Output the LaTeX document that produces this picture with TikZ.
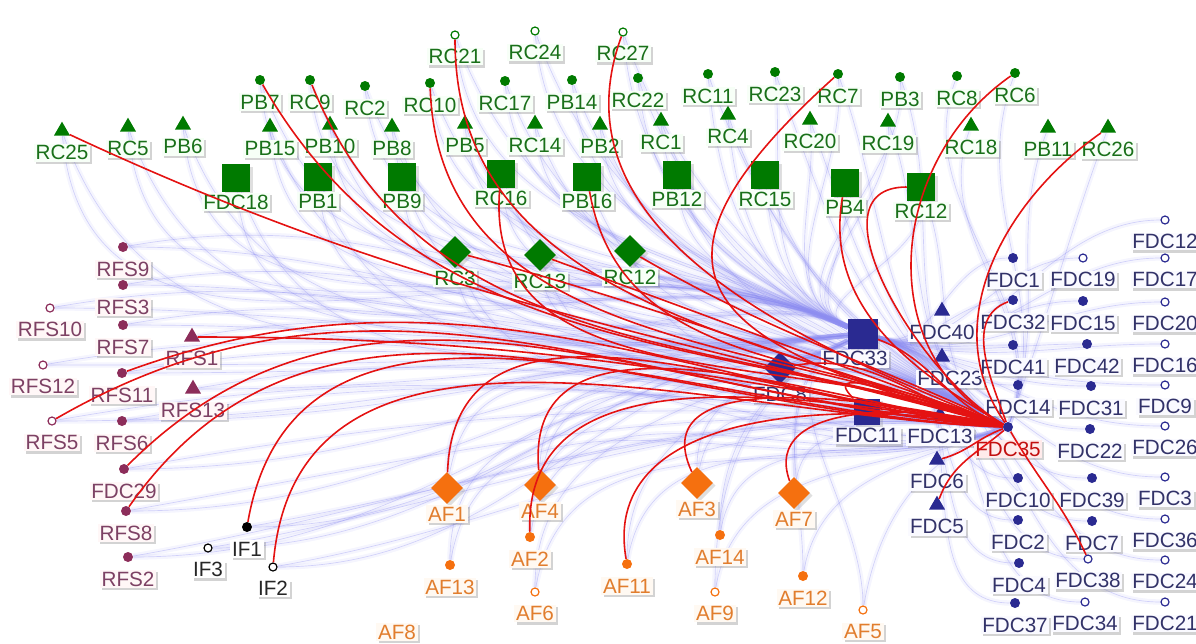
\documentclass[tikz,border=0pt]{standalone}
\usepackage{fontspec}
\setmainfont{Liberation Sans}
\usetikzlibrary{shapes.geometric,shadows,backgrounds}
\definecolor{leafgreen}{RGB}{0,122,0}
\definecolor{leaftext}{RGB}{25,112,25}
\definecolor{navyblue}{RGB}{42,42,145}
\definecolor{navytext}{RGB}{50,50,105}
\definecolor{plum}{RGB}{140,45,90}
\definecolor{plumtext}{RGB}{125,65,100}
\definecolor{amber}{RGB}{245,112,15}
\definecolor{ambertext}{RGB}{225,125,45}
\definecolor{linkred}{RGB}{228,18,18}
\definecolor{hazeblue}{RGB}{140,140,240}

\begin{document}
\begin{tikzpicture}[x=0.75pt, y=0.75pt]
    % Styles
    \tikzstyle{lab} = [fill=white, inner sep=1.2pt, label distance=5.8pt, font=\fontsize{15.5}{17}\selectfont, drop shadow={shadow xshift=1.6pt, shadow yshift=-1.6pt, opacity=0.35}]
    \tikzstyle{big} = [label distance=0.5pt]
    \tikzstyle{glab} = [lab, text=leaftext, fill=green!3]
    \tikzstyle{blab} = [lab, text=navytext, fill=blue!2]
    \tikzstyle{mlab} = [lab, text=plumtext, fill=red!3]
    \tikzstyle{olab} = [lab, text=ambertext, fill=orange!5]
    \tikzstyle{klab} = [lab, text=black!85]
    \tikzstyle{dotnode} = [circle, inner sep=0pt, minimum size=7.5pt]
    \tikzstyle{ringnode} = [circle, draw, fill=white, line width=0.9pt, inner sep=0pt, minimum size=6pt]
    \tikzstyle{trinode} = [regular polygon, regular polygon sides=3, inner sep=0pt, minimum size=14pt]
    \tikzstyle{sqnode} = [rectangle, inner sep=0pt, minimum size=21pt, drop shadow={shadow xshift=2pt, shadow yshift=-2pt, opacity=0.25}]
    \tikzstyle{dianode} = [diamond, inner sep=0pt, minimum size=24pt, drop shadow={shadow xshift=2pt, shadow yshift=-2pt, opacity=0.25}]
    \tikzstyle{gdot} = [dotnode, fill=leafgreen]
    \tikzstyle{gring} = [ringnode, draw=leafgreen]
    \tikzstyle{gtri} = [trinode, fill=leafgreen]
    \tikzstyle{gsq} = [sqnode, fill=leafgreen]
    \tikzstyle{gdia} = [dianode, fill=leafgreen]
    \tikzstyle{bdot} = [dotnode, fill=navyblue]
    \tikzstyle{bring} = [ringnode, draw=navyblue]
    \tikzstyle{btri} = [trinode, fill=navyblue]
    \tikzstyle{bsq} = [sqnode, fill=navyblue, minimum size=22pt]
    \tikzstyle{bdia} = [dianode, fill=navyblue]
    \tikzstyle{mdot} = [dotnode, fill=plum]
    \tikzstyle{mring} = [ringnode, draw=plum]
    \tikzstyle{mtri} = [trinode, fill=plum]
    \tikzstyle{odot} = [dotnode, fill=amber]
    \tikzstyle{oring} = [ringnode, draw=amber]
    \tikzstyle{odia} = [dianode, fill=amber]
    \tikzstyle{haze} = [draw=hazeblue, line width=4pt, opacity=0.09, postaction={draw=hazeblue, line width=0.5pt, opacity=0.35}]
    \tikzstyle{link} = [draw=linkred, line width=1.2pt]

    \useasboundingbox (0,0) rectangle (1196,-643);

    % Green cluster: triangles
    \node[gtri, label={[glab]below:RC25}] (rc25) at (62,-131) {};
    \node[gtri, label={[glab]below:RC5}] (rc5) at (128,-127) {};
    \node[gtri, label={[glab]below:PB6}] (pb6) at (183,-125) {};
    \node[gtri, label={[glab]below:PB15}] (pb15) at (270,-127) {};
    \node[gtri, label={[glab]below:PB10}] (pb10) at (330,-125) {};
    \node[gtri, label={[glab]below:PB8}] (pb8) at (392,-127) {};
    \node[gtri, label={[glab]below:PB5}] (pb5) at (465,-124) {};
    \node[gtri, label={[glab]below:RC14}] (rc14) at (535,-124) {};
    \node[gtri, label={[glab]below:PB2}] (pb2) at (600,-125) {};
    \node[gtri, label={[glab]below:RC1}] (rc1) at (661,-121) {};
    \node[gtri, label={[glab]below:RC4}] (rc4) at (728,-115) {};
    \node[gtri, label={[glab]below:RC20}] (rc20) at (810,-120) {};
    \node[gtri, label={[glab]below:RC19}] (rc19) at (888,-122) {};
    \node[gtri, label={[glab]below:RC18}] (rc18) at (971,-126) {};
    \node[gtri, label={[glab]below:PB11}] (pb11) at (1048,-128) {};
    \node[gtri, label={[glab]below:RC26}] (rc26) at (1108,-128) {};

    % Green cluster: dots and rings
    \node[gdot, label={[glab]below:PB7}] (pb7) at (260,-80) {};
    \node[gdot, label={[glab]below:RC9}] (rc9) at (310,-80) {};
    \node[gdot, label={[glab]below:RC2}] (rc2) at (365,-86) {};
    \node[gdot, label={[glab]below:RC10}] (rc10) at (430,-83) {};
    \node[gdot, label={[glab]below:RC17}] (rc17) at (505,-81) {};
    \node[gdot, label={[glab]below:PB14}] (pb14) at (572,-80) {};
    \node[gdot, label={[glab]below:RC22}] (rc22) at (638,-78) {};
    \node[gdot, label={[glab]below:RC11}] (rc11) at (708,-74) {};
    \node[gdot, label={[glab]below:RC23}] (rc23) at (775,-72) {};
    \node[gdot, label={[glab]below:RC7}] (rc7) at (838,-74) {};
    \node[gdot, label={[glab]below:PB3}] (pb3) at (900,-77) {};
    \node[gdot, label={[glab]below:RC8}] (rc8) at (957,-76) {};
    \node[gdot, label={[glab]below:RC6}] (rc6) at (1015,-73) {};
    \node[gring, label={[glab]below:RC21}] (rc21) at (455,-35) {};
    \node[gring, label={[glab]below:RC24}] (rc24) at (535,-31) {};
    \node[gring, label={[glab]below:RC27}] (rc27) at (623,-32) {};

    % Green cluster: squares and diamonds
    \node[gsq, label={[glab, big]below:FDC18}] (fdc18) at (236,-178) {};
    \node[gsq, label={[glab, big]below:PB1}] (pb1) at (318,-177) {};
    \node[gsq, label={[glab, big]below:PB9}] (pb9) at (402,-177) {};
    \node[gsq, label={[glab, big]below:RC16}] (rc16) at (501,-174) {};
    \node[gsq, label={[glab, big]below:PB16}] (pb16) at (587,-177) {};
    \node[gsq, label={[glab, big]below:PB12}] (pb12) at (677,-175) {};
    \node[gsq, label={[glab, big]below:RC15}] (rc15) at (765,-175) {};
    \node[gsq, label={[glab, big]below:PB4}] (pb4) at (845,-183) {};
    \node[gsq, label={[glab, big]below:RC12}] (rc12) at (921,-187) {};
    \node[gdia, label={[glab, big]below:RC3}] (rc3) at (455,-252) {};
    \node[gdia, label={[glab, big]below:RC13}] (rc13) at (540,-255) {};
    \node[gdia, label={[glab, big]below:RC12}] (rc12d) at (630,-251) {};

    % Blue cluster: hub, squares, diamond, triangles
    \node[bsq, label={[blab, big, xshift=-6pt]below:FDC33}] (fdc33) at (863,-334) {};
    \node[bsq, minimum size=20pt, label={[blab, big]below:FDC11}] (fdc11) at (867,-412) {};
    \node[bdia, label={[blab, big]below:FDC8}] (fdc8) at (780,-368) {};
    \node[btri, label={[blab]below:FDC40}] (fdc40) at (942,-311) {};
    \node[btri, label={[blab, xshift=6pt]below:FDC23}] (fdc23) at (942,-357) {};
    \node[btri, label={[blab]below:FDC13}] (fdc13) at (940,-415) {};
    \node[btri, label={[blab]below:FDC6}] (fdc6) at (937,-460) {};
    \node[btri, label={[blab]below:FDC5}] (fdc5) at (937,-505) {};

    % Blue cluster: first column
    \node[bdot, label={[blab]below:FDC1}] (fdc1) at (1013,-258) {};
    \node[bdot, label={[blab]below:FDC32}] (fdc32) at (1013,-300) {};
    \node[bdot, label={[blab]below:FDC41}] (fdc41) at (1013,-345) {};
    \node[bdot, label={[blab]below:FDC14}] (fdc14) at (1018,-385) {};
    \node[bdot, label={[lab, text=linkred!85!black, fill=red!8]below:FDC35}] (fdc35) at (1008,-427) {};
    \node[bdot, label={[blab]below:FDC10}] (fdc10) at (1018,-478) {};
    \node[bdot, label={[blab]below:FDC2}] (fdc2) at (1018,-520) {};
    \node[bdot, label={[blab]below:FDC4}] (fdc4) at (1019,-563) {};
    \node[bdot, label={[blab]below:FDC37}] (fdc37) at (1015,-603) {};

    % Blue cluster: second column
    \node[bring, label={[blab]below:FDC19}] (fdc19) at (1083,-258) {};
    \node[bdot, label={[blab]below:FDC15}] (fdc15) at (1083,-301) {};
    \node[bdot, label={[blab]below:FDC42}] (fdc42) at (1087,-344) {};
    \node[bdot, label={[blab]below:FDC31}] (fdc31) at (1091,-386) {};
    \node[bdot, label={[blab]below:FDC22}] (fdc22) at (1090,-429) {};
    \node[bdot, label={[blab]below:FDC39}] (fdc39) at (1092,-478) {};
    \node[bdot, label={[blab]below:FDC7}] (fdc7) at (1092,-521) {};
    \node[bring, label={[blab]below:FDC38}] (fdc38) at (1088,-559) {};
    \node[bring, label={[blab]below:FDC34}] (fdc34) at (1085,-602) {};

    % Blue cluster: third column
    \node[bring, label={[blab]below:FDC12}] (fdc12) at (1165,-220) {};
    \node[bring, label={[blab]below:FDC17}] (fdc17) at (1165,-258) {};
    \node[bring, label={[blab]below:FDC20}] (fdc20) at (1165,-302) {};
    \node[bring, label={[blab]below:FDC16}] (fdc16) at (1165,-344) {};
    \node[bring, label={[blab]below:FDC9}] (fdc9) at (1165,-385) {};
    \node[bring, label={[blab]below:FDC26}] (fdc26) at (1165,-426) {};
    \node[bring, label={[blab]below:FDC3}] (fdc3) at (1165,-477) {};
    \node[bring, label={[blab]below:FDC36}] (fdc36) at (1165,-519) {};
    \node[bring, label={[blab]below:FDC24}] (fdc24) at (1165,-560) {};
    \node[bring, label={[blab]below:FDC21}] (fdc21) at (1165,-602) {};

    % Plum cluster
    \node[mdot, label={[mlab]below:RFS9}] (rfs9) at (123,-247) {};
    \node[mdot, label={[mlab]below:RFS3}] (rfs3) at (123,-285) {};
    \node[mring, label={[mlab]below:RFS10}] (rfs10) at (50,-308) {};
    \node[mdot, label={[mlab]below:RFS7}] (rfs7) at (123,-325) {};
    \node[mtri, label={[mlab]below:RFS1}] (rfs1) at (192,-337) {};
    \node[mring, label={[mlab]below:RFS12}] (rfs12) at (43,-365) {};
    \node[mdot, label={[mlab]below:RFS11}] (rfs11) at (122,-373) {};
    \node[mtri, label={[mlab]below:RFS13}] (rfs13) at (193,-389) {};
    \node[mring, label={[mlab]below:RFS5}] (rfs5) at (52,-421) {};
    \node[mdot, label={[mlab]below:RFS6}] (rfs6) at (122,-421) {};
    \node[mdot, label={[mlab]below:FDC29}] (fdc29) at (124,-469) {};
    \node[mdot, label={[mlab]below:RFS8}] (rfs8) at (126,-511) {};
    \node[mdot, label={[mlab]below:RFS2}] (rfs2) at (128,-557) {};

    % Black cluster
    \node[dotnode, fill=black, label={[klab]below:IF1}] (if1) at (247,-527) {};
    \node[ringnode, draw=black, label={[klab]below:IF3}] (if3) at (208,-548) {};
    \node[ringnode, draw=black, label={[klab]below:IF2}] (if2) at (273,-567) {};

    % Amber cluster
    \node[odia, label={[olab, big]below:AF1}] (af1) at (447,-488) {};
    \node[odia, label={[olab, big]below:AF4}] (af4) at (540,-485) {};
    \node[odia, label={[olab, big]below:AF3}] (af3) at (697,-483) {};
    \node[odia, label={[olab, big]below:AF7}] (af7) at (794,-493) {};
    \node[odot, label={[olab]below:AF13}] (af13) at (450,-565) {};
    \node[odot, label={[olab]below:AF2}] (af2) at (530,-537) {};
    \node[odot, label={[olab]below:AF11}] (af11) at (627,-564) {};
    \node[odot, label={[olab]below:AF14}] (af14) at (720,-535) {};
    \node[odot, label={[olab]below:AF12}] (af12) at (803,-576) {};
    \node[oring, label={[olab]below:AF6}] (af6) at (535,-592) {};
    \node[oring, label={[olab]below:AF9}] (af9) at (715,-592) {};
    \node[oring, label={[olab]below:AF5}] (af5) at (863,-610) {};
    \node[olab] (af8) at (397,-632) {AF8};

    % Faint background links
    \begin{scope}[on background layer]
        \foreach \n in {rc25,rc5,pb6,pb15,pb10,pb8,pb5,rc14,pb2,rc1,rc4,rc20,rc19,pb7,rc9,rc2,rc10,rc17,pb14,rc22,rc11,rc23,rc7,pb3,rc21,rc24,rc27,fdc18,pb1,pb9,rc16,pb16,pb12,rc15,pb4,rc12,rc3,rc13,rc12d}
            {\draw[haze] (\n) to[out=-85, in=155] (fdc33);
             \draw[haze] (\n) to[out=-70, in=150] (fdc35);}
        \foreach \n in {rc18,rc8,rc6,pb11,rc26}
            \draw[haze] (\n) to[out=-110, in=70] (fdc35);
        \foreach \n in {rfs9,rfs3,rfs10,rfs7,rfs1,rfs12,rfs11,rfs13,rfs5,rfs6,fdc29,rfs8,rfs2,if1,if2,if3}
            {\draw[haze] (\n) to[out=0, in=185] (fdc33);
             \draw[haze] (\n) to[out=10, in=175] (fdc35);}
        \foreach \n in {af1,af4,af3,af7,af13,af2,af11,af14,af12,af6,af9,af5}
            {\draw[haze] (\n) to[out=90, in=205] (fdc33);
             \draw[haze] (\n) to[out=80, in=200] (fdc35);}
        \foreach \n in {fdc1,fdc32,fdc41,fdc14,fdc10,fdc2,fdc4,fdc37,fdc19,fdc15,fdc42,fdc31,fdc22,fdc39,fdc7,fdc38,fdc34,fdc12,fdc17,fdc20,fdc16,fdc9,fdc26,fdc3,fdc36,fdc24,fdc21}
            \draw[haze] (\n) to[out=180, in=-15] (fdc33);
    \end{scope}

    % Highlighted links of FDC35
    \draw[link] (fdc35) to[out=165, in=-25] (rc25);
    \draw[link] (fdc35) to[out=163, in=-60] (pb7);
    \draw[link] (fdc35) to[out=162, in=-68] (rc9);
    \draw[link] (fdc35) to[out=160, in=-88] (rc10);
    \draw[link] (fdc35) to[out=160, in=-90] (rc21);
    \draw[link] (fdc35) to[out=158, in=-95] (rc16);
    \draw[link] (fdc35) to[out=158, in=-110] (rc27);
    \draw[link] (fdc35) to[out=157, in=-80] (pb16);
    \draw[link] (fdc35) to[out=163, in=-15] (rc3);
    \draw[link] (fdc35) to[out=160, in=-20] (rc13);
    \draw[link] (fdc35) to[out=155, in=-30] (rc12d);
    \draw[link] (fdc35) to[out=165, in=-138, looseness=2] (rc7);
    \draw[link] (fdc35) to[out=152, in=-145, looseness=1.1] (rc6);
    \draw[link] (fdc35) to[out=125, in=-145] (rc26);
    \draw[link] (fdc35) to[out=150, in=180] (rc12);
    \draw[link] (fdc35) to[out=150, in=-100] (pb4);
    \draw[link] (fdc35) to[out=160, in=-20] (fdc33);
    \draw[link] (fdc35) to[out=170, in=0] (rfs1);
    \draw[link] (fdc35) to[out=172, in=20] (rfs11);
    \draw[link] (fdc35) to[out=175, in=30] (rfs5);
    \draw[link] (fdc35) to[out=176, in=45] (fdc29);
    \draw[link] (fdc35) to[out=178, in=55] (rfs8);
    \draw[link] (fdc35) to[out=178, in=80] (if1);
    \draw[link] (fdc35) to[out=178, in=85] (if2);
    \draw[link] (fdc35) to[out=175, in=88] (af1);
    \draw[link] (fdc35) to[out=172, in=92] (af2);
    \draw[link] (fdc35) to[out=172, in=95] (af4);
    \draw[link] (fdc35) to[out=170, in=100] (af11);
    \draw[link] (fdc35) to[out=168, in=115] (af3);
    \draw[link] (fdc35) to[out=165, in=110] (af7);
    \draw[link] (fdc35) to[out=168, in=10] (fdc8);
    \draw[link] (fdc35) to[out=165, in=135] (fdc11);
    \draw[link] (fdc35) to[out=110, in=200] (fdc32);
    \draw[link] (fdc35) to[out=200, in=15] (fdc6);
    \draw[link] (fdc35) to[out=220, in=70] (fdc5);
    \draw[link] (fdc35) to[out=-60, in=115] (fdc38);
\end{tikzpicture}
\end{document}
